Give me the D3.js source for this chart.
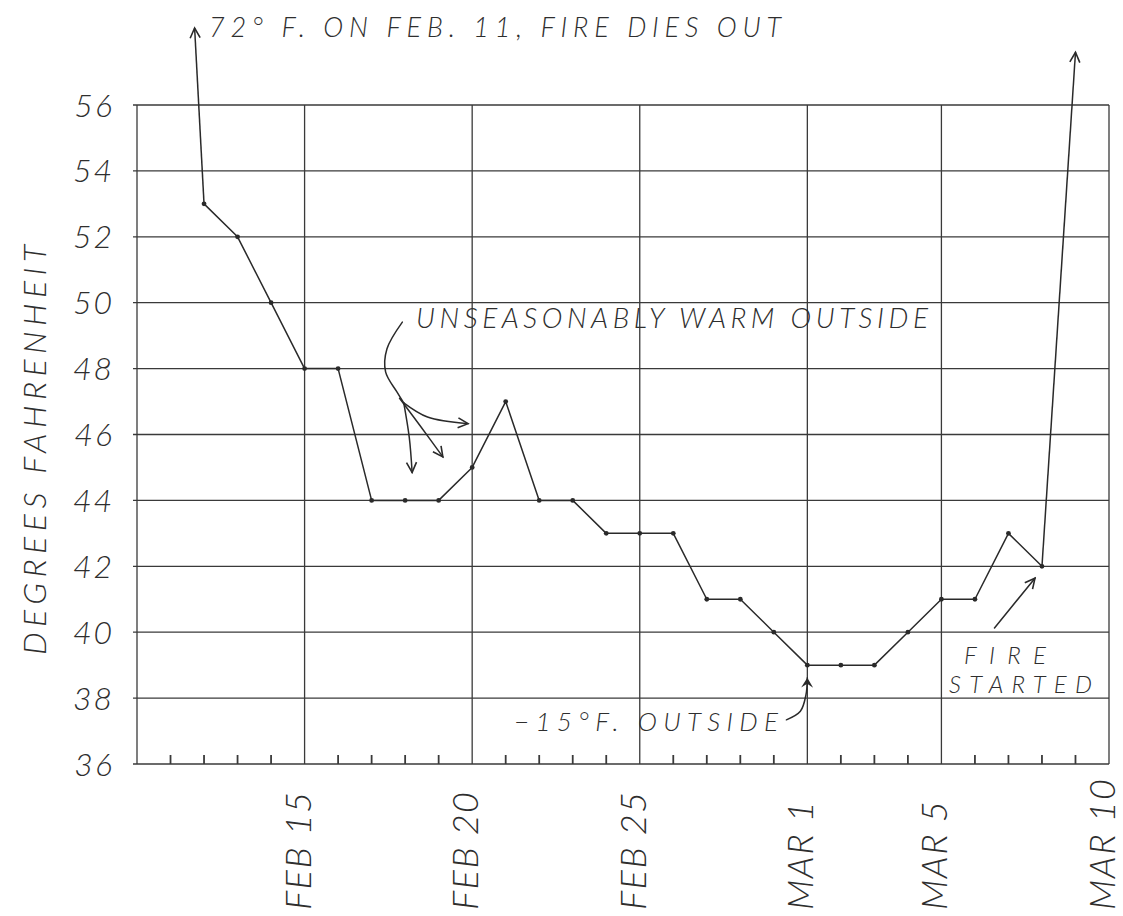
<!DOCTYPE html>
<html lang="en">
<head>
<meta charset="utf-8">
<title>Stove temperature, Feb - Mar</title>
<style>
  body { margin: 0; background: #fff; }
  svg text {
    font-family: Lato, "DejaVu Sans", sans-serif;
    font-weight: 300;
    font-style: italic;
    fill: #2e2e2e;
  }
  .grid line { stroke: #3a3a3a; stroke-width: 1.3; }
  .tick line { stroke: #3a3a3a; stroke-width: 1.8; }
  .temp { fill: none; stroke: #2a2a2a; stroke-width: 1.5; stroke-linejoin: round; }
  .note { fill: none; stroke: #2a2a2a; stroke-width: 1.5; stroke-linecap: round; }
</style>
<script src="https://d3js.org/d3.v7.min.js"></script>
</head>
<body>
<svg width="1123" height="916"></svg>
<script>
// readings (one per day), Feb 11 and Mar 9 are off the chart
var days = ["1980-02-11","1980-02-12","1980-02-13","1980-02-14","1980-02-15","1980-02-16",
            "1980-02-17","1980-02-18","1980-02-19","1980-02-20","1980-02-21","1980-02-22",
            "1980-02-23","1980-02-24","1980-02-25","1980-02-26","1980-02-27","1980-02-28",
            "1980-02-29","1980-03-01","1980-03-02","1980-03-03","1980-03-04","1980-03-05",
            "1980-03-06","1980-03-07","1980-03-08","1980-03-09"];
var temps = [72, 53, 52, 50, 48, 48, 44, 44, 44, 45, 47, 44, 44, 43, 43, 43, 41, 41, 40,
             39, 39, 39, 40, 41, 41, 43, 42, 57.6];

var gridDays = ["1980-02-10","1980-02-15","1980-02-20","1980-02-25","1980-03-01","1980-03-05","1980-03-10"];
var gridLabels = ["", "FEB 15", "FEB 20", "FEB 25", "MAR 1", "MAR 5", "MAR 10"];
var yTicks = [36, 38, 40, 42, 44, 46, 48, 50, 52, 54, 56];

var parse = d3.timeParse("%Y-%m-%d");
var data = days.map(function(d, i) { return { date: parse(d), t: temps[i] }; });
var grid = gridDays.map(parse);

var svg = d3.select("svg");

var x = d3.scaleTime()
    .domain([grid[0], grid[grid.length - 1]])
    .range([137, 1109]);
var y = d3.scaleLinear()
    .domain([36, 56])
    .range([764, 105]);

// annotation helper: day offset from Feb 10 -> pixels
var day0 = grid[0];
function ax(dd) { return x(d3.timeHour.offset(day0, Math.round(dd * 24))); }

// arrow heads
var defs = svg.append("defs");
defs.append("marker")
    .attr("id", "open")
    .attr("markerUnits", "userSpaceOnUse")
    .attr("viewBox", "-12 -7 14 14")
    .attr("markerWidth", 14).attr("markerHeight", 14)
    .attr("orient", "auto")
  .append("path")
    .attr("d", "M-10,-5 L0,0 L-10,5")
    .attr("fill", "none").attr("stroke", "#2a2a2a").attr("stroke-width", 1.6);
defs.append("marker")
    .attr("id", "solid")
    .attr("markerUnits", "userSpaceOnUse")
    .attr("viewBox", "-12 -7 14 14")
    .attr("markerWidth", 14).attr("markerHeight", 14)
    .attr("orient", "auto")
  .append("path")
    .attr("d", "M-10,-6 L0,0 L-10,6 L-6,0 Z")
    .attr("fill", "#2a2a2a");

// grid
var g = svg.append("g").attr("class", "grid");
g.selectAll(".h").data(yTicks).enter().append("line")
    .attr("x1", x.range()[0] - 4).attr("x2", x.range()[1])
    .attr("y1", function(d) { return y(d); }).attr("y2", function(d) { return y(d); });
g.selectAll(".v").data(grid).enter().append("line")
    .attr("x1", function(d) { return x(d); }).attr("x2", function(d) { return x(d); })
    .attr("y1", y(56)).attr("y2", y(36));

// small day ticks on the bottom edge
var gridSet = new Set(grid.map(function(d) { return +d; }));
var dayTicks = d3.timeDay.range(grid[0], grid[grid.length - 1]).filter(function(d) { return !gridSet.has(+d); });
svg.append("g").attr("class", "tick").selectAll("line").data(dayTicks).enter().append("line")
    .attr("x1", function(d) { return x(d); }).attr("x2", function(d) { return x(d); })
    .attr("y1", y(36)).attr("y2", y(36) - 9);

// y labels
svg.append("g").selectAll("text").data(yTicks).enter().append("text")
    .attr("x", 114).attr("y", function(d) { return y(d); })
    .attr("dy", "0.36em")
    .attr("text-anchor", "end")
    .style("font-size", "32px")
    .style("letter-spacing", "2px")
    .text(function(d) { return d; });

// x labels, rotated
svg.append("g").selectAll("text").data(grid.slice(1)).enter().append("text")
    .attr("transform", function(d) { return "translate(" + (x(d) + 6) + ",910) rotate(-90)"; })
    .attr("text-anchor", "start")
    .style("font-size", "36px")
    .style("letter-spacing", "1.5px")
    .text(function(d, i) { return gridLabels[i + 1]; });

// y title
svg.append("text")
    .attr("transform", "translate(46,450) rotate(-90)")
    .attr("text-anchor", "middle")
    .attr("textLength", 410)
    .attr("lengthAdjust", "spacing")
    .style("font-size", "32px")
    .text("DEGREES FAHRENHEIT");

// temperature line (on chart part)
var onChart = data.slice(1, data.length - 1);
var line = d3.line().x(function(d) { return x(d.date); }).y(function(d) { return y(d.t); });
svg.append("path").datum(onChart).attr("class", "temp").attr("d", line);

// off-chart legs: toward 72 on Feb 11, and up after Mar 8
var p0 = data[0], p1 = data[1];
var topY = 28;
var k = (y(p1.t) - topY) / (y(p1.t) - y(p0.t));
var xs = x(p1.date) + k * (x(p0.date) - x(p1.date));
svg.append("line").attr("class", "temp")
    .attr("x1", x(p1.date)).attr("y1", y(p1.t))
    .attr("x2", xs).attr("y2", topY)
    .attr("marker-end", "url(#open)");
var q0 = data[data.length - 2], q1 = data[data.length - 1];
svg.append("line").attr("class", "temp")
    .attr("x1", x(q0.date)).attr("y1", y(q0.t))
    .attr("x2", x(q1.date)).attr("y2", y(q1.t))
    .attr("marker-end", "url(#open)");

svg.append("g").selectAll("circle").data(onChart).enter().append("circle")
    .attr("cx", function(d) { return x(d.date); })
    .attr("cy", function(d) { return y(d.t); })
    .attr("r", 2.4)
    .attr("fill", "#2a2a2a");

// annotations
var curve = d3.line()
    .x(function(d) { return ax(d[0]); })
    .y(function(d) { return y(d[1]); })
    .curve(d3.curveCatmullRom);

svg.append("text").attr("x", 209).attr("y", 37)
    .attr("textLength", 572).attr("lengthAdjust", "spacing")
    .style("font-size", "27px")
    .text("72\u00b0 F. ON FEB. 11, FIRE DIES OUT");

svg.append("text").attr("x", 416).attr("y", 328)
    .attr("textLength", 512).attr("lengthAdjust", "spacing")
    .style("font-size", "28px")
    .text("UNSEASONABLY WARM OUTSIDE");

var warmStem = [[7.93, 49.41], [7.45, 48.6], [7.42, 47.9], [7.75, 47.3], [7.97, 46.96]];
svg.append("path").attr("class", "note").attr("d", curve(warmStem));
svg.append("path").attr("class", "note").attr("marker-end", "url(#open)")
    .attr("d", curve([[7.97, 46.96], [8.12, 45.9], [8.2, 44.85]]));
svg.append("path").attr("class", "note").attr("marker-end", "url(#open)")
    .attr("d", curve([[7.85, 47.1], [8.44, 46.25], [9.13, 45.32]]));
svg.append("path").attr("class", "note").attr("marker-end", "url(#open)")
    .attr("d", curve([[7.97, 46.96], [8.65, 46.53], [9.87, 46.33]]));

svg.append("text").attr("x", 514).attr("y", 731)
    .attr("textLength", 264).attr("lengthAdjust", "spacing")
    .style("font-size", "26px")
    .text("\u221215\u00b0F.  OUTSIDE");
svg.append("path").attr("class", "note").attr("marker-end", "url(#solid)")
    .attr("d", curve([[19.39, 37.34], [19.8, 37.6], [19.97, 38.1], [20.02, 38.62]]));

svg.append("text").attr("x", 964).attr("y", 664)
    .attr("textLength", 82).attr("lengthAdjust", "spacing")
    .style("font-size", "24px")
    .text("FIRE");
svg.append("text").attr("x", 949).attr("y", 693)
    .attr("textLength", 143).attr("lengthAdjust", "spacing")
    .style("font-size", "24px")
    .text("STARTED");
svg.append("path").attr("class", "note").attr("marker-end", "url(#open)")
    .attr("d", curve([[25.6, 40.13], [26.79, 41.64]]));
</script>
</body>
</html>
